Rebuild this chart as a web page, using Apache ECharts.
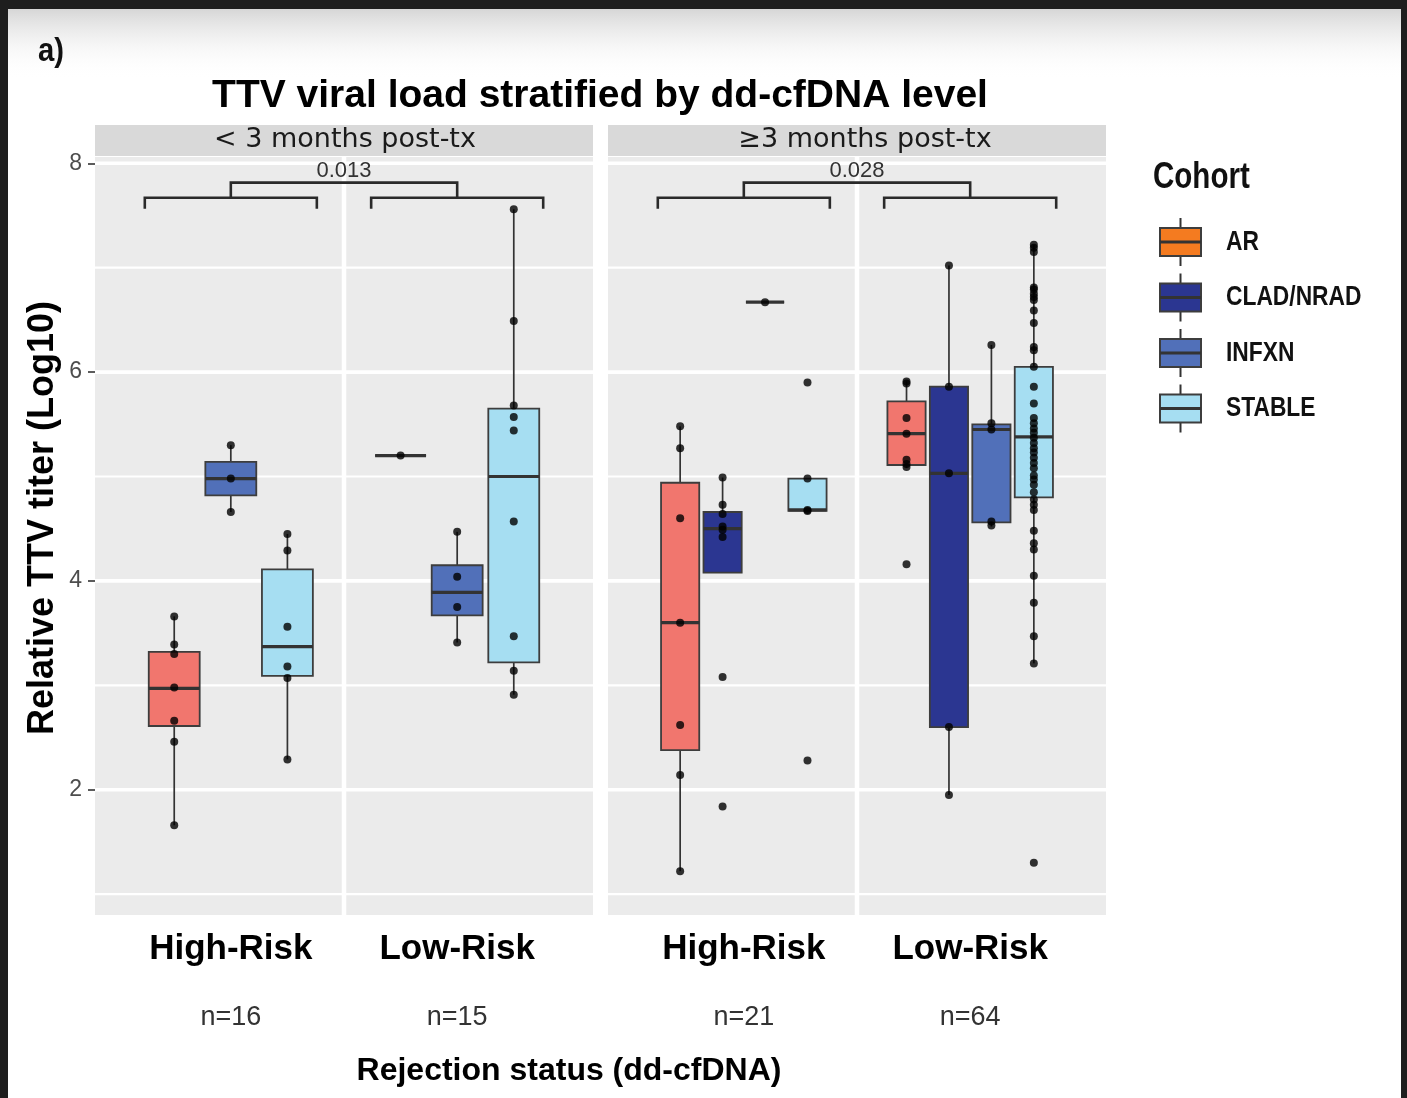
<!DOCTYPE html>
<html><head><meta charset="utf-8">
<script src="https://cdn.jsdelivr.net/npm/echarts@6/dist/echarts.min.js"></script>
<style>html,body{margin:0;padding:0;background:#fff;}#c{width:1407px;height:1098px;}</style>
</head><body><div id="c"></div>
<script>
// ---------------- DATA ----------------
const cohorts = ['AR', 'CLAD/NRAD', 'INFXN', 'STABLE'];
const groups = ['High-Risk', 'Low-Risk'];
const panelLabels = ['< 3 months post-tx', '\u22653 months post-tx'];
const groupN_early = [16, 15];
const groupN_late = [21, 64];
const pValues = ['0.013', '0.028'];
const yTickValues = [2, 4, 6, 8];
const yMinorValues = [1, 3, 5, 7];

// individual observations (log10 titer)
const early_high_AR = [3.66, 3.39, 3.30, 2.98, 2.66, 2.46, 1.66];
const early_high_INFXN = [5.30, 4.98, 4.66];
const early_high_STABLE = [4.45, 4.29, 3.56, 3.18, 3.07, 2.29];
const early_low_AR = [5.20];
const early_low_INFXN = [4.47, 4.04, 3.75, 3.41];
const early_low_STABLE = [7.56, 6.49, 5.68, 5.57, 5.44, 4.57, 3.47, 3.14, 2.91];
const late_high_AR = [5.48, 5.27, 4.60, 3.60, 2.62, 2.14, 1.22];
const late_high_CLAD = [4.99, 4.73, 4.64, 4.52, 4.49, 4.42, 3.08, 1.84];
const late_high_INFXN = [6.67];
const late_high_STABLE = [5.90, 4.98, 4.68, 4.67, 2.28];
const late_low_AR = [5.91, 5.89, 5.56, 5.41, 5.16, 5.12, 5.09, 4.16];
const late_low_CLAD = [7.02, 5.86, 5.03, 2.60, 1.95];
const late_low_INFXN = [6.26, 5.51, 5.45, 4.57, 4.53];
const late_low_STABLE = [7.22, 7.19, 7.15, 6.81, 6.79, 6.75, 6.72, 6.69, 6.59, 6.47, 6.24, 6.21,
  6.05, 5.86, 5.70, 5.56, 5.51, 5.46, 5.42, 5.37, 5.32, 5.27, 5.23, 5.18, 5.13, 5.08, 5.01,
  4.97, 4.92, 4.85, 4.78, 4.73, 4.68, 4.48, 4.36, 4.30, 4.05, 3.79, 3.47, 3.21, 1.30];

// box summaries as drawn: [group, cohort, lowerWhisker, Q1, median, Q3, upperWhisker]
const early_boxes = [
  [0, 0, 1.66, 2.61, 2.97, 3.32, 3.66],
  [0, 2, 4.66, 4.82, 4.98, 5.14, 5.30],
  [0, 3, 2.29, 3.09, 3.37, 4.11, 4.45],
  [1, 0, 5.20, 5.20, 5.20, 5.20, 5.20],
  [1, 2, 3.41, 3.67, 3.89, 4.15, 4.47],
  [1, 3, 2.91, 3.22, 5.00, 5.65, 7.56]
];
const late_boxes = [
  [0, 0, 1.22, 2.38, 3.60, 4.94, 5.48],
  [0, 1, 4.08, 4.08, 4.50, 4.66, 4.99],
  [0, 2, 6.67, 6.67, 6.67, 6.67, 6.67],
  [0, 3, 4.67, 4.67, 4.68, 4.98, 4.98],
  [1, 0, 5.08, 5.11, 5.41, 5.72, 5.91],
  [1, 1, 1.95, 2.60, 5.03, 5.86, 7.02],
  [1, 2, 4.52, 4.56, 5.45, 5.50, 6.26],
  [1, 3, 3.21, 4.80, 5.38, 6.05, 7.22]
];
const early_points = [
  [early_high_AR, null, early_high_INFXN, early_high_STABLE],
  [early_low_AR, null, early_low_INFXN, early_low_STABLE]
];
const late_points = [
  [late_high_AR, late_high_CLAD, late_high_INFXN, late_high_STABLE],
  [late_low_AR, late_low_CLAD, late_low_INFXN, late_low_STABLE]
];

// ---------------- STYLE / LAYOUT ----------------
const F = "'Liberation Sans', Arial, Helvetica, sans-serif";
const FD = "'DejaVu Sans', 'Liberation Sans', sans-serif";
const NARROW = 0.8; // condensed look of legend / panel tag
const boxFill = ['#F1766E', '#2B3691', '#5170B9', '#A6DEF2'];
const legendFill = ['#F47B20', '#2B3691', '#5170B9', '#A6DEF2'];
const Y_MIN = 0.8, Y_MAX = 8.06;
const bracketLevels = { tick: 7.565, bar: 7.67, top: 7.815, label: 7.925 };
const bracketHalf = 0.38;

const panels = [
  { boxes: early_boxes, points: early_points, n: groupN_early },
  { boxes: late_boxes, points: late_points, n: groupN_late }
];
const gridDefs = [
  { left: 95, top: 157, width: 498, height: 758 },
  { left: 608, top: 157, width: 498, height: 758 }
];

// dodge like ggplot: boxes present within a group share 0.75 of the category width
function buildPanel(pi) {
  const P = panels[pi];
  const boxData = [], ptData = [];
  [0, 1].forEach(g => {
    const present = P.boxes.filter(b => b[0] === g).sort((a, b) => a[1] - b[1]);
    const n = present.length, slot = 0.75 / n;
    present.forEach((b, i) => {
      const x = (g + 1) - 0.375 + slot * (i + 0.5);
      const hw = slot * 0.9 / 2;
      boxData.push([x, b[2], b[3], b[4], b[5], b[6], b[1], hw]);
      const pts = P.points[g][b[1]] || [];
      pts.forEach(v => ptData.push([x, v]));
    });
  });
  return { boxData, ptData };
}

function renderGrid(params, api) {
  const kind = api.value(0), v = api.value(1);
  const cs = params.coordSys;
  if (kind === 2) {
    const x = api.coord([v, 4])[0];
    return { type: 'line', shape: { x1: x, y1: cs.y, x2: x, y2: cs.y + cs.height }, style: { stroke: '#ffffff', lineWidth: 4.5 } };
  }
  const y = api.coord([1, v])[1];
  return { type: 'line', shape: { x1: cs.x, y1: y, x2: cs.x + cs.width, y2: y }, style: { stroke: '#ffffff', lineWidth: kind === 0 ? 3.6 : 2.2 } };
}

function renderBox(params, api) {
  const x = api.value(0), lo = api.value(1), q1 = api.value(2), md = api.value(3),
        q3 = api.value(4), hi = api.value(5), ci = api.value(6), hw = api.value(7);
  const tl = api.coord([x - hw, q3]), br = api.coord([x + hw, q1]);
  const cx = api.coord([x, md])[0];
  const yMd = api.coord([x, md])[1], yLo = api.coord([x, lo])[1], yHi = api.coord([x, hi])[1];
  const ws = { stroke: '#333333', lineWidth: 1.7 };
  return {
    type: 'group',
    children: [
      { type: 'line', shape: { x1: cx, y1: yHi, x2: cx, y2: tl[1] }, style: ws },
      { type: 'line', shape: { x1: cx, y1: br[1], x2: cx, y2: yLo }, style: ws },
      { type: 'rect', shape: { x: tl[0], y: tl[1], width: br[0] - tl[0], height: br[1] - tl[1] },
        style: { fill: boxFill[ci], stroke: '#3d3d3d', lineWidth: 1.8 } },
      { type: 'line', shape: { x1: tl[0], y1: yMd, x2: br[0], y2: yMd }, style: { stroke: '#333333', lineWidth: 3.2 } }
    ]
  };
}

function makeBracketRenderer(pi) {
  return function (params, api) {
    const L = bracketLevels, s = { stroke: '#2a2a2a', lineWidth: 2.6, fill: null };
    const children = [];
    [1, 2].forEach(c => {
      const a = api.coord([c - bracketHalf, L.tick]), b = api.coord([c - bracketHalf, L.bar]);
      const d = api.coord([c + bracketHalf, L.bar]), e = api.coord([c + bracketHalf, L.tick]);
      children.push({ type: 'polyline', shape: { points: [a, b, d, e] }, style: s });
    });
    const t1 = api.coord([1, L.bar]), t2 = api.coord([1, L.top]), t3 = api.coord([2, L.top]), t4 = api.coord([2, L.bar]);
    children.push({ type: 'polyline', shape: { points: [t1, t2, t3, t4] }, style: s });
    const lp = api.coord([1.5, L.label]);
    children.push({ type: 'text', x: lp[0], y: lp[1], style: { text: pValues[pi], fontSize: 22, fontFamily: F, fill: '#333333', align: 'center', verticalAlign: 'middle' } });
    return { type: 'group', children };
  };
}

const xAxes = [], yAxes = [], grids = [], series = [];
[0, 1].forEach(pi => {
  const gd = gridDefs[pi];
  grids.push({ left: gd.left, top: gd.top, width: gd.width, height: gd.height, show: true, backgroundColor: '#EBEBEB', borderWidth: 0, containLabel: false });
  xAxes.push({
    type: 'value', gridIndex: pi, min: 0.4, max: 2.6,
    splitLine: { show: false }, axisLine: { show: false }, axisTick: { show: false },
    axisLabel: {
      customValues: [1, 2], margin: 16,
      formatter: v => {
        const i = Math.round(v);
        if (Math.abs(v - i) < 1e-6 && (i === 1 || i === 2)) return '{g|' + groups[i - 1] + '}\n{s| }\n{n|n=' + panels[pi].n[i - 1] + '}';
        return '';
      },
      rich: {
        g: { fontSize: 35, fontWeight: 'bold', color: '#000', fontFamily: F, lineHeight: 36 },
        s: { fontSize: 10, lineHeight: 32 },
        n: { fontSize: 27, color: '#333333', fontFamily: F, lineHeight: 38 }
      }
    }
  });
  yAxes.push({
    type: 'value', gridIndex: pi, min: Y_MIN, max: Y_MAX, splitNumber: 4, show: pi === 0,
    splitLine: { show: false }, axisLine: { show: false },
    axisTick: { show: true, customValues: yTickValues, length: 7, lineStyle: { color: '#333333', width: 1.6 } },
    axisLabel: {
      customValues: yTickValues, margin: 13, color: '#4D4D4D', fontSize: 23, fontFamily: F,
      formatter: v => (yTickValues.indexOf(v) >= 0 ? String(v) : '')
    }
  });
  const gridItems = yTickValues.map(v => [0, v]).concat(yMinorValues.map(v => [1, v])).concat([[2, 1.5]]);
  series.push({ type: 'custom', xAxisIndex: pi, yAxisIndex: pi, z: 1, silent: true, renderItem: renderGrid, data: gridItems });
  const built = buildPanel(pi);
  series.push({ type: 'custom', name: 'boxes' + pi, xAxisIndex: pi, yAxisIndex: pi, z: 2, renderItem: renderBox, data: built.boxData });
  series.push({ type: 'scatter', xAxisIndex: pi, yAxisIndex: pi, z: 3, symbolSize: 8, itemStyle: { color: '#000000' }, data: built.ptData });
  series.push({ type: 'custom', xAxisIndex: pi, yAxisIndex: pi, z: 3, silent: true, renderItem: makeBracketRenderer(pi), data: [[1.5, 7.7]] });
});

// legend (drawn as ggplot key glyphs)
const legendItems = [{ type: 'text', x: 1153, y: 178, scaleX: 0.82, style: { text: 'Cohort', fontSize: 36, fontWeight: 'bold', fontFamily: F, fill: '#111', verticalAlign: 'middle' } }];
cohorts.forEach((c, i) => {
  const cy = 242 + 55.5 * i;
  legendItems.push({ type: 'line', shape: { x1: 1180.5, y1: cy - 24, x2: 1180.5, y2: cy + 24 }, style: { stroke: '#333', lineWidth: 2 } });
  legendItems.push({ type: 'rect', shape: { x: 1160, y: cy - 14, width: 41, height: 28 }, style: { fill: legendFill[i], stroke: '#3d3d3d', lineWidth: 2 } });
  legendItems.push({ type: 'line', shape: { x1: 1160, y1: cy, x2: 1201, y2: cy }, style: { stroke: '#333', lineWidth: 3 } });
  legendItems.push({ type: 'text', x: 1226, y: cy, scaleX: NARROW, style: { text: c, fontSize: 28.5, fontWeight: 'bold', fontFamily: F, fill: '#111', verticalAlign: 'middle' } });
});

const graphics = [
  { type: 'rect', shape: { x: 0, y: 9, width: 1407, height: 70 }, style: { fill: new echarts.graphic.LinearGradient(0, 0, 0, 1, [{ offset: 0, color: '#d6d6d6' }, { offset: 1, color: 'rgba(255,255,255,0)' }]) }, z: -10 },
  { type: 'rect', shape: { x: 0, y: 0, width: 1407, height: 9 }, style: { fill: '#1e1e1e' } },
  { type: 'rect', shape: { x: 0, y: 0, width: 8, height: 1098 }, style: { fill: '#1e1e1e' } },
  { type: 'rect', shape: { x: 1401, y: 0, width: 6, height: 1098 }, style: { fill: '#1e1e1e' } },
  { type: 'text', x: 38, y: 52, scaleX: 0.86, style: { text: 'a)', fontSize: 34, fontWeight: 'bold', fontFamily: F, fill: '#111', verticalAlign: 'middle' } },
  { type: 'rect', shape: { x: 95, y: 125, width: 498, height: 31 }, style: { fill: '#D9D9D9' } },
  { type: 'rect', shape: { x: 608, y: 125, width: 498, height: 31 }, style: { fill: '#D9D9D9' } },
  { type: 'text', x: 345, y: 140, style: { text: panelLabels[0], fontSize: 27, fontFamily: FD, fill: '#1A1A1A', align: 'center', verticalAlign: 'middle' } },
  { type: 'text', x: 865, y: 140, style: { text: panelLabels[1], fontSize: 27, fontFamily: FD, fill: '#1A1A1A', align: 'center', verticalAlign: 'middle' } },
  { type: 'text', x: 43, y: 518, rotation: Math.PI / 2, style: { text: 'Relative TTV titer (Log10)', fontSize: 36, fontWeight: 'bold', fontFamily: F, fill: '#000', align: 'center', verticalAlign: 'middle' } },
  { type: 'group', children: legendItems }
];

const chart = echarts.init(document.getElementById('c'), null, { renderer: 'canvas' });
chart.setOption({
  animation: false,
  backgroundColor: '#ffffff',
  title: [
    { text: 'TTV viral load stratified by dd-cfDNA level', left: 600, top: 76, textAlign: 'center', padding: 0,
      textStyle: { fontSize: 39, fontWeight: 'bold', fontFamily: F, color: '#000', lineHeight: 40 } },
    { text: 'Rejection status (dd-cfDNA)', left: 569, top: 1054, textAlign: 'center', padding: 0,
      textStyle: { fontSize: 32, fontWeight: 'bold', fontFamily: F, color: '#000', lineHeight: 34 } }
  ],
  grid: grids,
  xAxis: xAxes,
  yAxis: yAxes,
  series: series,
  graphic: graphics
});
</script>
</body></html>
